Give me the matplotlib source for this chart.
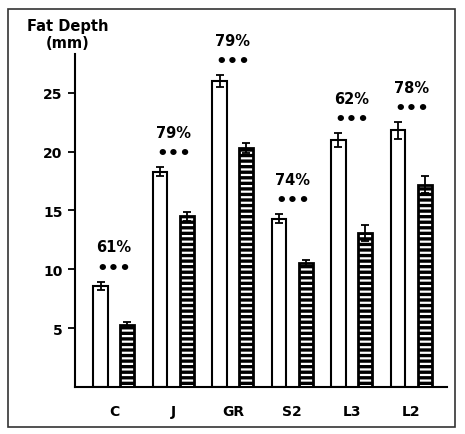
import matplotlib
matplotlib.use("Agg")
import matplotlib.pyplot as plt
from matplotlib.patches import Rectangle
import numpy as np

categories = ["C", "J", "GR", "S2", "L3", "L2"]
open_vals = [8.6, 18.3, 26.0, 14.3, 21.0, 21.8]
open_err = [0.35, 0.4, 0.5, 0.4, 0.6, 0.7]
hatched_vals = [5.3, 14.5, 20.3, 10.5, 13.1, 17.2]
hatched_err = [0.25, 0.4, 0.45, 0.3, 0.7, 0.7]
pct_labels = ["61%", "79%", "79%", "74%", "62%", "78%"]
y_ticks = [5, 10, 15, 20, 25]

plt.rcParams['font.family'] = ['DejaVu Sans']
plt.rcParams['font.weight'] = 'bold'
plt.rcParams['hatch.linewidth'] = 1.6

W, H = 465, 435
fig = plt.figure(figsize=(W / 100, H / 100), dpi=100)
ax = fig.add_axes([75 / W, 1 - 388 / H, (447 - 75) / W, (388 - 55) / H])

x = np.arange(len(categories))
bw = 0.24
off = 0.225

ax.bar(x - off, open_vals, bw, color='white', edgecolor='black', linewidth=1.5, zorder=2)
ax.errorbar(x - off, open_vals, yerr=open_err, fmt='none', ecolor='black',
            elinewidth=1.3, capsize=3, capthick=1.3, zorder=3)

ax.bar(x + off, hatched_vals, bw, color='black', edgecolor='white', hatch='---',
       linewidth=0, zorder=2)
ax.bar(x + off, hatched_vals, bw, fill=False, edgecolor='black', linewidth=2.0, zorder=2.5)
ax.errorbar(x + off, hatched_vals, yerr=hatched_err, fmt='none', ecolor='black',
            elinewidth=1.3, capsize=3, capthick=1.3, zorder=3)

for i in range(len(categories)):
    top = open_vals[i] + open_err[i]
    ax.annotate('•••', (x[i], top), xytext=(0, 10), textcoords='offset points',
                ha='center', va='center', fontsize=13, fontweight='bold')
    ax.annotate(pct_labels[i], (x[i], top), xytext=(0, 25), textcoords='offset points',
                ha='center', va='center', fontsize=10.5, fontweight='bold',
                annotation_clip=False)

ax.set_xlim(-0.655, 5.6)
ax.set_ylim(0, 28.3)
ax.set_xticks(x)
ax.set_xticklabels(categories, fontsize=10, fontweight='bold')
ax.set_yticks(y_ticks)
ax.set_yticklabels([str(t) for t in y_ticks], fontsize=10, fontweight='bold')
ax.tick_params(axis='x', length=0, pad=12)
ax.tick_params(axis='y', length=5, width=1.3, direction='out', pad=4)
for s in ['top', 'right']:
    ax.spines[s].set_visible(False)
ax.spines['left'].set_linewidth(1.5)
ax.spines['bottom'].set_linewidth(1.5)

fig.text(68 / W, 1 - 35 / H, 'Fat Depth\n(mm)', ha='center', va='center',
         fontsize=10.5, fontweight='bold', linespacing=1.2)

fig.patches.append(Rectangle((8 / W, 1 - 428 / H), (455 - 8) / W, (428 - 10) / H,
                             transform=fig.transFigure, fill=False,
                             edgecolor='#333333', linewidth=1.2))

fig.savefig('out.png', dpi=100, facecolor='white')
